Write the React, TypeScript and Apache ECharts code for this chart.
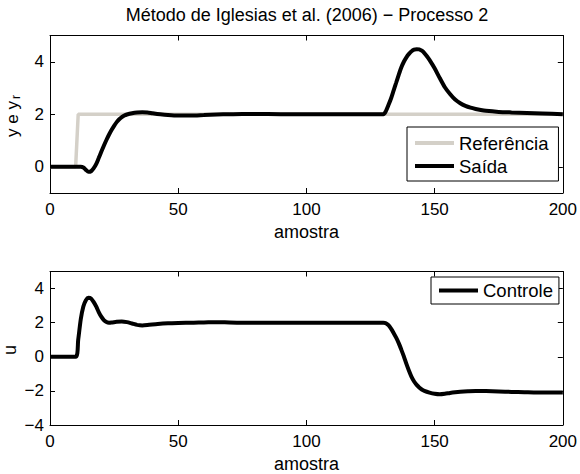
import React, { useEffect, useRef } from 'react';
import * as echarts from 'echarts';

// Tick positions
const xTicks = [0, 50, 100, 150, 200];
const topYTicks = [0, 2, 4];
const bottomYTicks = [-4, -2, 0, 2, 4];

// Reference (setpoint) signal
const refSamples = [0, 10, 11, 200];
const refValues = [0, 0, 2, 2];

// Process output
const outSamples = [
  0, 12, 13, 14, 15, 16, 17, 18, 19, 20, 21, 22, 23, 24, 25, 26, 27, 28, 29, 30,
  32, 34, 36, 38, 40, 43, 46, 50, 55, 60, 65, 70, 75, 80, 90, 130,
  131, 132, 133, 134, 135, 136, 137, 138, 139, 140, 141, 142, 143, 144, 145, 146, 147, 148,
  150, 152, 154, 156, 158, 160, 162, 164, 166, 168, 170, 175, 180, 186, 192, 200,
];
const outValues = [
  0, 0, -0.03, -0.12, -0.19, -0.17, -0.06, 0.1, 0.33, 0.57, 0.8, 1.02, 1.22, 1.4, 1.56, 1.7, 1.81, 1.89, 1.95, 1.99,
  2.04, 2.07, 2.08, 2.07, 2.04, 2.0, 1.97, 1.95, 1.95, 1.97, 1.99, 2.0, 2.01, 2.01, 2.0, 2.0,
  2.12, 2.35, 2.6, 2.9, 3.2, 3.5, 3.78, 4.0, 4.17, 4.3, 4.4, 4.46, 4.48, 4.47, 4.42, 4.33, 4.21, 4.07,
  3.75, 3.38, 3.03, 2.77, 2.56, 2.42, 2.32, 2.25, 2.2, 2.16, 2.13, 2.09, 2.07, 2.05, 2.03, 2.0,
];

// Control signal
const ctrlSamples = [
  0, 10, 11, 12, 13, 14, 15, 16, 17, 18, 19, 20, 21, 22, 23, 24, 26, 28, 30, 32, 34, 36, 38,
  42, 46, 50, 56, 60, 65, 70, 75, 130,
  131, 132, 133, 134, 135, 136, 137, 138, 139, 140, 141, 142, 143, 144, 145, 146, 148, 150,
  152, 154, 156, 158, 160, 163, 166, 170, 175, 180, 185, 190, 200,
];
const ctrlValues = [
  0, 0, 1.0, 2.2, 2.95, 3.32, 3.46, 3.42, 3.22, 2.95, 2.62, 2.35, 2.15, 2.04, 2.0, 2.01, 2.05, 2.07, 2.03, 1.95, 1.87, 1.84, 1.86,
  1.92, 1.96, 1.98, 2.0, 2.01, 2.03, 2.01, 2.0, 2.0,
  1.97, 1.85, 1.65, 1.4, 1.12, 0.8, 0.42, 0.02, -0.42, -0.82, -1.18, -1.45, -1.65, -1.8, -1.92, -2.0, -2.1, -2.17,
  -2.2, -2.17, -2.12, -2.08, -2.05, -2.02, -2.0, -2.01, -2.03, -2.06, -2.08, -2.1, -2.1,
];

const FONT = '"Liberation Sans", Arial, Helvetica, sans-serif';
const REF_COLOR = '#d4d0c8';
const LINE_COLOR = '#000000';

const minus = (v: number) => String(v).replace('-', '\u2212');
const pairs = (xs: number[], ys: number[]) => xs.map((x, i) => [x, ys[i]]);

export default function App() {
  const el = useRef<HTMLDivElement>(null);

  useEffect(() => {
    if (!el.current) return;
    const chart = echarts.init(el.current, null, { renderer: 'svg' });

    const axisLine = { show: true, onZero: false, lineStyle: { color: '#000', width: 1 } };
    const tick = (vals: number[]) => ({
      show: true,
      inside: true,
      length: 5,
      customValues: vals,
      lineStyle: { color: '#000', width: 1 },
    });
    const label = (vals: number[], margin: number) => ({
      show: true,
      customValues: vals,
      margin,
      color: '#000',
      fontFamily: FONT,
      fontSize: 17,
      formatter: minus,
    });
    const nameStyle = { color: '#000', fontFamily: FONT, fontSize: 18 };

    const xAxis = (gridIndex: number, position: string, labelled: boolean) => ({
      type: 'value',
      gridIndex,
      position,
      min: 0,
      max: 200,
      axisLine,
      axisTick: tick(xTicks),
      axisLabel: labelled ? label(xTicks, 8) : { show: false },
      splitLine: { show: false },
      name: labelled ? 'amostra' : '',
      nameLocation: 'middle',
      nameGap: 30,
      nameTextStyle: nameStyle,
    });
    const yAxis = (gridIndex: number, position: string, labelled: boolean, min: number, max: number, vals: number[]) => ({
      type: 'value',
      gridIndex,
      position,
      min,
      max,
      axisLine,
      axisTick: tick(vals),
      axisLabel: labelled ? label(vals, 6) : { show: false },
      splitLine: { show: false },
    });

    const legendBase = {
      orient: 'vertical',
      icon: 'rect',
      itemWidth: 39,
      itemHeight: 4,
      itemGap: 3,
      selectedMode: false,
      borderColor: '#000',
      borderWidth: 1,
      borderRadius: 0,
      backgroundColor: '#fff',
      textStyle: { color: '#000', fontFamily: FONT, fontSize: 18.5, lineHeight: 20 },
    };

    chart.setOption({
      animation: false,
      backgroundColor: '#fff',
      grid: [
        { left: 50, right: 16, top: 35.5, height: 157.5 },
        { left: 50, right: 16, top: 271.5, height: 158 },
      ],
      xAxis: [
        xAxis(0, 'bottom', true),
        xAxis(0, 'top', false),
        xAxis(1, 'bottom', true),
        xAxis(1, 'top', false),
      ],
      yAxis: [
        yAxis(0, 'left', true, -1, 5, topYTicks),
        yAxis(0, 'right', false, -1, 5, topYTicks),
        yAxis(1, 'left', true, -4, 5, bottomYTicks),
        yAxis(1, 'right', false, -4, 5, bottomYTicks),
      ],
      legend: [
        {
          ...legendBase,
          left: 407,
          top: 127,
          padding: [6, 10, 5, 8],
          data: ['Referência', 'Saída'],
        },
        {
          ...legendBase,
          left: 431,
          top: 277,
          padding: [3.5, 6, 3.5, 8],
          data: ['Controle'],
        },
      ],
      series: [
        {
          name: 'Referência',
          type: 'line',
          xAxisIndex: 0,
          yAxisIndex: 0,
          data: pairs(refSamples, refValues),
          showSymbol: false,
          symbol: 'none',
          color: REF_COLOR,
          itemStyle: { color: REF_COLOR },
          lineStyle: { color: REF_COLOR, width: 3.5 },
          z: 2,
        },
        {
          name: 'Saída',
          type: 'line',
          xAxisIndex: 0,
          yAxisIndex: 0,
          data: pairs(outSamples, outValues),
          showSymbol: false,
          symbol: 'none',
          smooth: 0.25,
          color: LINE_COLOR,
          itemStyle: { color: LINE_COLOR },
          lineStyle: { color: LINE_COLOR, width: 4 },
          z: 3,
        },
        {
          name: 'Controle',
          type: 'line',
          xAxisIndex: 2,
          yAxisIndex: 2,
          data: pairs(ctrlSamples, ctrlValues),
          showSymbol: false,
          symbol: 'none',
          smooth: 0.25,
          color: LINE_COLOR,
          itemStyle: { color: LINE_COLOR },
          lineStyle: { color: LINE_COLOR, width: 4 },
          z: 3,
        },
      ],
      graphic: [
        {
          type: 'text',
          x: 307,
          y: 15,
          style: {
            text: 'Método de Iglesias et al. (2006) \u2212 Processo 2',
            fill: '#000',
            font: `18px ${FONT}`,
            align: 'center',
            verticalAlign: 'middle',
          },
        },
        {
          type: 'text',
          x: 12.5,
          y: 119,
          rotation: Math.PI / 2,
          style: {
            text: 'y e y',
            fill: '#000',
            font: `17px ${FONT}`,
            align: 'center',
            verticalAlign: 'middle',
          },
        },
        {
          type: 'text',
          x: 15.5,
          y: 97,
          rotation: Math.PI / 2,
          style: {
            text: 'r',
            fill: '#000',
            font: `12px ${FONT}`,
            align: 'center',
            verticalAlign: 'middle',
          },
        },
        {
          type: 'text',
          x: 10,
          y: 350,
          rotation: Math.PI / 2,
          style: {
            text: 'u',
            fill: '#000',
            font: `18px ${FONT}`,
            align: 'center',
            verticalAlign: 'middle',
          },
        },
      ],
    });

    return () => chart.dispose();
  }, []);

  return (
    <div
      ref={el}
      style={{ position: 'fixed', left: 0, top: 0, width: 580, height: 474, background: '#fff' }}
    />
  );
}
